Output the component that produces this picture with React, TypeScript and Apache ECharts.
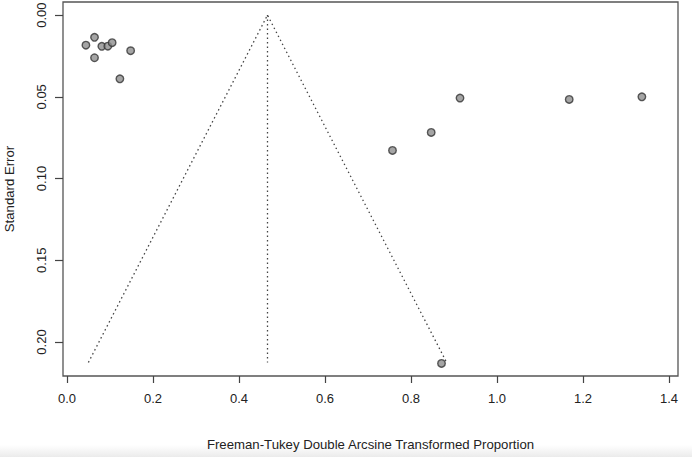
import React, { useEffect, useRef } from "react";
import * as echarts from "echarts";

// Study estimates: [Freeman-Tukey transformed proportion, standard error]
const studyProportion = [0.044, 0.064, 0.064, 0.081, 0.095, 0.105, 0.148, 0.123, 0.914, 1.168, 1.337, 0.847, 0.757, 0.871];
const studyStdError = [0.0184, 0.0136, 0.0261, 0.0191, 0.0190, 0.0169, 0.0218, 0.0390, 0.0508, 0.0516, 0.0500, 0.0718, 0.0828, 0.2131];

const pooledEstimate = 0.4663;
const maxStdError = 0.2125;
const zCrit = 1.96;

const xTickValues = [0, 0.2, 0.4, 0.6, 0.8, 1.0, 1.2, 1.4];
const yTickValues = [0, 0.05, 0.1, 0.15, 0.2];

const xTitle = "Freeman-Tukey Double Arcsine Transformed Proportion";
const yTitle = "Standard Error";

export default function App() {
  const ref = useRef<HTMLDivElement>(null);

  useEffect(() => {
    if (!ref.current) return;
    const chart = echarts.init(ref.current, undefined, { renderer: "svg" });
    const font = "'Liberation Sans', Arial, Helvetica, sans-serif";
    const textColor = "#222";
    const points = studyProportion.map((x, i) => [x, studyStdError[i]]);
    const funnel = [
      [pooledEstimate - zCrit * maxStdError, maxStdError],
      [pooledEstimate, 0],
      [pooledEstimate + zCrit * maxStdError, maxStdError],
    ];
    const centerLine = [
      [pooledEstimate, 0],
      [pooledEstimate, maxStdError],
    ];
    chart.setOption({
      animation: false,
      backgroundColor: "#fff",
      grid: {
        left: 63,
        top: 2,
        width: 615,
        height: 374,
        show: true,
        borderColor: "#555",
        borderWidth: 1.3,
        backgroundColor: "transparent",
        containLabel: false,
        outerBoundsMode: "none",
      },
      xAxis: {
        type: "value",
        min: -0.0093,
        max: 1.421,
        name: xTitle,
        nameLocation: "middle",
        nameGap: 62,
        nameTextStyle: { fontFamily: font, fontSize: 13.2, color: textColor },
        axisLine: { show: false, onZero: false },
        splitLine: { show: false },
        axisTick: {
          show: true,
          customValues: xTickValues,
          length: 7,
          lineStyle: { color: "#444", width: 1.2 },
        },
        axisLabel: {
          customValues: xTickValues,
          formatter: (v: number) => v.toFixed(1),
          fontFamily: font,
          fontSize: 13,
          color: textColor,
          margin: 16,
        },
      },
      yAxis: {
        type: "value",
        inverse: true,
        min: -0.008,
        max: 0.2208,
        name: yTitle,
        nameLocation: "middle",
        nameGap: 47,
        nameRotate: 90,
        nameTextStyle: { fontFamily: font, fontSize: 13.2, color: textColor },
        axisLine: { show: false, onZero: false },
        splitLine: { show: false },
        axisTick: {
          show: true,
          customValues: yTickValues,
          length: 8,
          lineStyle: { color: "#444", width: 1.2 },
        },
        axisLabel: {
          customValues: yTickValues,
          formatter: (v: number) => v.toFixed(2),
          fontFamily: font,
          fontSize: 13,
          color: textColor,
          rotate: 90,
          margin: 15,
        },
      },
      series: [
        {
          type: "line",
          data: funnel,
          symbol: "none",
          lineStyle: { type: [1.5, 3], color: "#444", width: 1.3 },
          silent: true,
        },
        {
          type: "line",
          data: centerLine,
          symbol: "none",
          lineStyle: { type: [1.5, 3], color: "#444", width: 1.3 },
          silent: true,
        },
        {
          type: "scatter",
          data: points,
          symbol: "circle",
          symbolSize: 7.5,
          itemStyle: { color: "#8f8f8f", borderColor: "#333", borderWidth: 1.4 },
        },
      ],
      graphic: [
        {
          type: "rect",
          shape: { x: 0, y: 445, width: 692, height: 12 },
          style: {
            fill: new echarts.graphic.LinearGradient(0, 0, 0, 1, [
              { offset: 0, color: "rgba(235,235,235,0)" },
              { offset: 1, color: "rgba(235,235,235,1)" },
            ]),
          },
          silent: true,
          z: -1,
        },
      ],
    });
    return () => chart.dispose();
  }, []);

  return (
    <div
      ref={ref}
      style={{ position: "fixed", left: 0, top: 0, width: 692, height: 457 }}
    />
  );
}
